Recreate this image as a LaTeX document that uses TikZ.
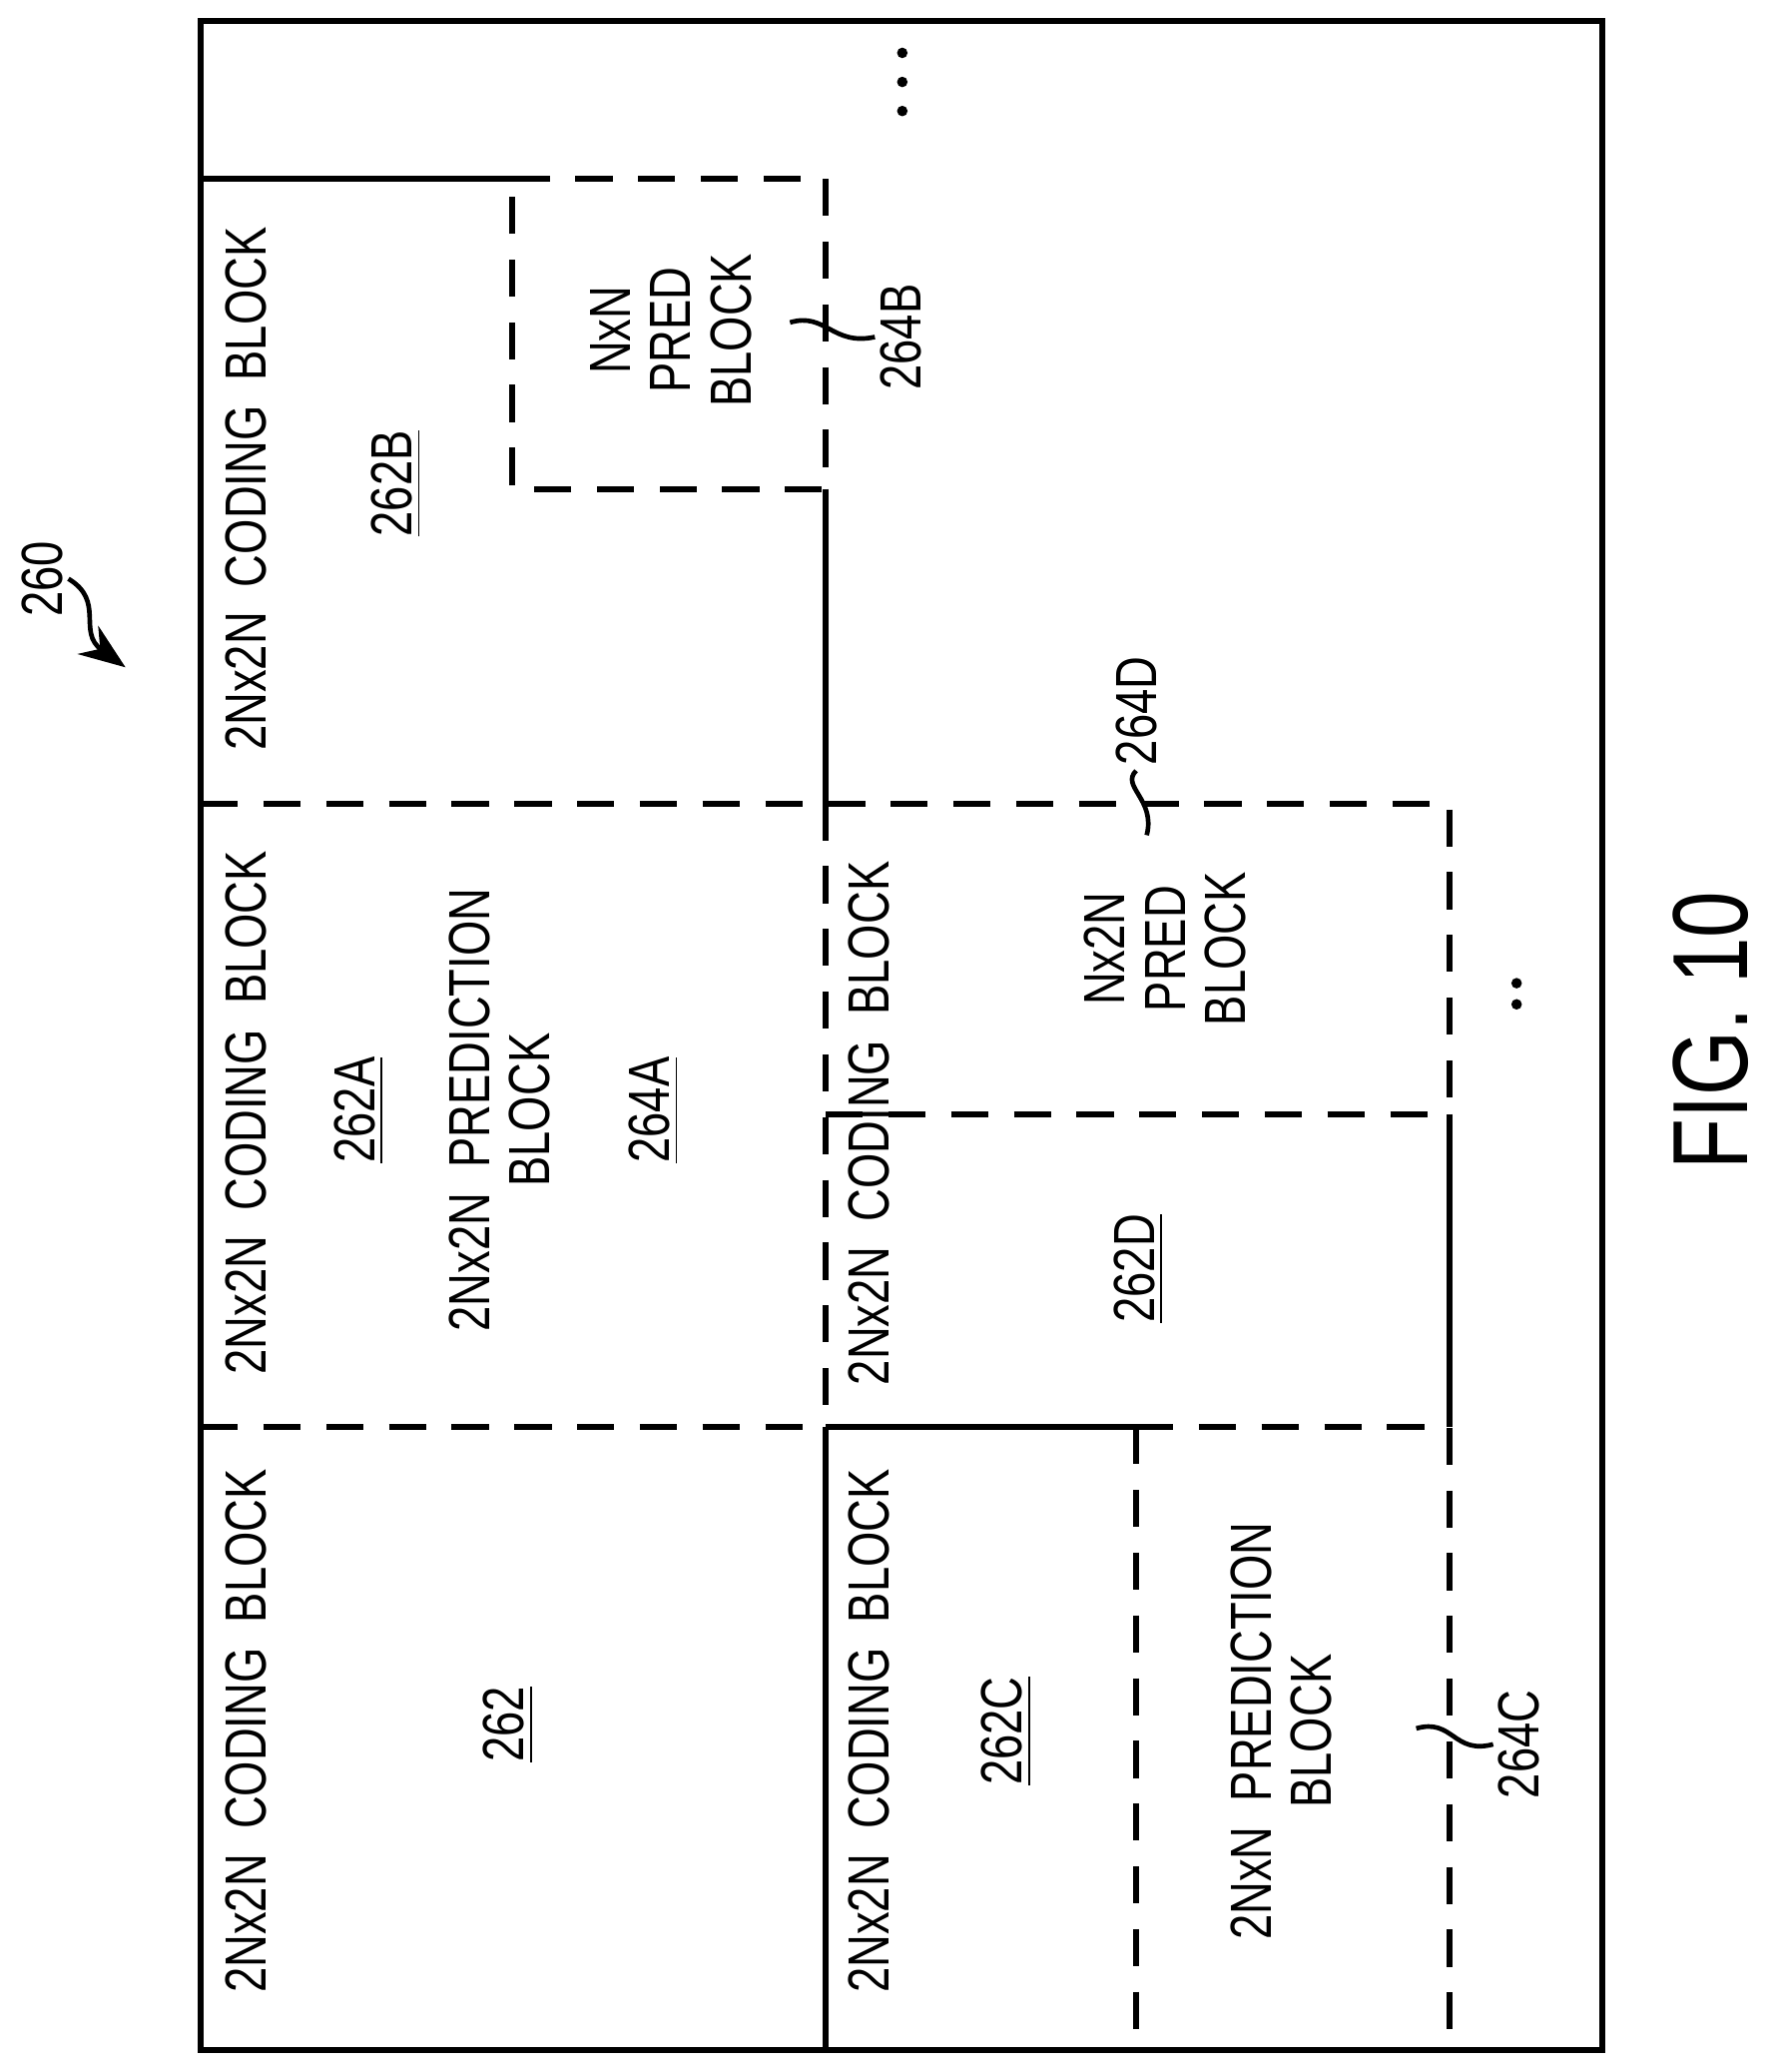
\documentclass[tikz,border=0pt]{standalone}
\usepackage{fontspec}
\setmainfont[FakeStretch=0.78]{Liberation Sans}
\usetikzlibrary{arrows.meta,positioning}
\tikzset{
  solidln/.style={line width=1.3pt},
  dashln/.style={line width=1.3pt, dash pattern=on 8pt off 5.5pt},
  lbl/.style={rotate=90, font=\fontsize{12.5}{13}\selectfont, align=center, inner sep=1pt},
  leader/.style={line width=1pt}
}
\begin{document}
\begin{tikzpicture}[x=0.01cm, y=-0.01cm]
  \useasboundingbox (0,0) rectangle (1340,1568);
  % outer frame
  \draw[solidln] (152,16) rectangle (1213,1551);
  % solid block edges
  \draw[solidln] (152,135) -- (388,135);
  \draw[solidln] (625,370) -- (625,608);
  \draw[solidln] (625,1080) -- (625,1551);
  \draw[solidln] (625,1080) -- (860,1080);
  \draw[solidln] (1097,843) -- (1097,1080);
  % dashed edges
  \draw[dashln] (388,135) -- (625,135) -- (625,370) -- (388,370) -- cycle;
  \draw[dashln] (152,608) -- (1097,608) -- (1097,843);
  \draw[dashln] (625,843) -- (1097,843);
  \draw[dashln] (625,608) -- (625,1080);
  \draw[dashln] (152,1080) -- (625,1080);
  \draw[dashln] (860,1080) -- (1097,1080) -- (1097,1551);
  \draw[dashln] (860,1080) -- (860,1551);
  % texts
  \node[lbl] (cbB) at (186,370) {2Nx2N\ \ CODING\ \ BLOCK};
  \node[lbl] (cbA) at (186,842) {2Nx2N\ \ CODING\ \ BLOCK};
  \node[lbl] (cb0) at (186,1310) {2Nx2N\ \ CODING\ \ BLOCK};
  \node[lbl] (cbD) at (658,850) {2Nx2N\ \ CODING\ \ BLOCK};
  \node[lbl] (cbC) at (658,1310) {2Nx2N\ \ CODING\ \ BLOCK};
  \node[lbl] (n262B) at (300,366) {\underline{262B}};
  \node[lbl] (n262A) at (272,840) {\underline{262A}};
  \node[lbl] (predA) at (378,840) {2Nx2N\ \ PREDICTION\\BLOCK};
  \node[lbl] (n264A) at (495,840) {\underline{264A}};
  \node[lbl] (n262) at (385,1305) {\underline{262}};
  \node[lbl] (n262C) at (762,1310) {\underline{262C}};
  \node[lbl] (n262D) at (862,960) {\underline{262D}};
  \node[lbl] (predD) at (882,718) {Nx2N\\PRED\\BLOCK};
  \node[lbl] (predB) at (508,250) {NxN\\PRED\\BLOCK};
  \node[lbl] (predC) at (970,1310) {2NxN\ \ PREDICTION\\BLOCK};
  \node[lbl] (n264B) at (682,255) {264B};
  \node[lbl] (n264D) at (860,538) {264D};
  \node[lbl] (n264C) at (1150,1320) {264C};
  \node[lbl] (n260) at (32,438) {260};
  \node[rotate=90, font=\fontsize{23}{25}\selectfont] (fig) at (1295,780) {FIG. 10};
  % leaders
  \coordinate (tB) at (598,244);
  \coordinate (tD) at (868,632);
  \coordinate (tC) at (1072,1308);
  \coordinate (t260) at (95,505);
  \draw[leader] (tB) .. controls (625,236) and (630,262) .. (n264B.north);
  \draw[leader] (n264D.west) .. controls (848,595) and (875,605) .. (tD);
  \draw[leader] (tC) .. controls (1100,1300) and (1100,1328) .. (n264C.north);
  \draw[leader, -{Stealth[length=10pt]}] (n260.south) .. controls (80,455) and (58,478) .. (t260);
  % continuation dots
  \foreach \yy in {40,62,84} \fill (683,\yy) circle (4);
  \foreach \yy in {744,760} \fill (1148,\yy) circle (4);
\end{tikzpicture}
\end{document}
